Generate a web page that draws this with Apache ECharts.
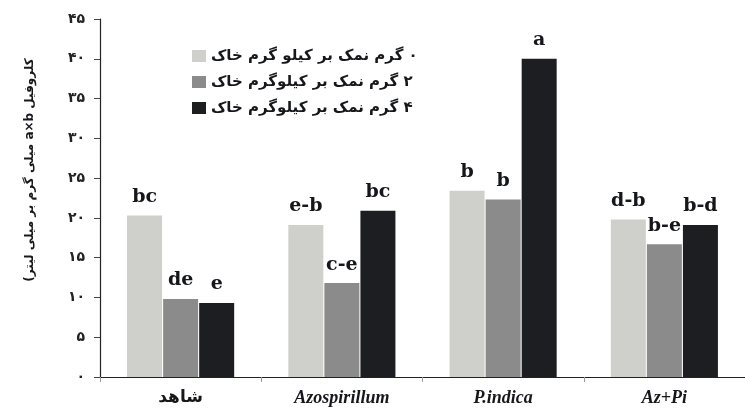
<!DOCTYPE html>
<html>
<head>
<meta charset="utf-8">
<script src="https://cdn.jsdelivr.net/npm/echarts@6/dist/echarts.min.js"></script>
<style>
  html, body { margin: 0; padding: 0; background: #fff; }
  #chart { position: absolute; left: 0; top: 0; width: 745px; height: 410px; }
</style>
</head>
<body>
<div id="chart" dir="rtl"></div>
<script>
// Treatments on the category axis
const categories = ['شاهد', 'Azospirillum', 'P.indica', 'Az+Pi'];

// Salt levels (legend entries)
const seriesNames = [
  '۰ گرم نمک بر کیلو گرم خاک',
  '۲ گرم نمک بر کیلوگرم خاک',
  '۴ گرم نمک بر کیلوگرم خاک'
];

// Chlorophyll a×b values per treatment, one array per salt level
const salt0 = [20.3, 19.1, 23.4, 19.8];
const salt2 = [9.8, 11.8, 22.3, 16.7];
const salt4 = [9.3, 20.9, 40.0, 19.1];

// Mean-comparison letters shown above each bar
const letters0 = ['bc', 'e-b', 'b', 'd-b'];
const letters2 = ['de', 'c-e', 'b', 'b-e'];
const letters4 = ['e', 'bc', 'a', 'b-d'];

// Y-axis tick labels (Persian digits) for 0, 5, ..., 45
const yTickLabels = ['۰', '۵', '۱۰', '۱۵', '۲۰', '۲۵', '۳۰', '۳۵', '۴۰', '۴۵'];

const yTitle = 'کلروفیل a×b میلی گرم بر میلی لیتر)';

const colors = ['#cfcfcc', '#8b8b8b', '#1c1e21'];
const valueSets = [salt0, salt2, salt4];
const letterSets = [letters0, letters2, letters4];

const chart = echarts.init(document.getElementById('chart'), null, { renderer: 'canvas' });

const series = valueSets.map(function (vals, i) {
  return {
    name: seriesNames[i],
    type: 'bar',
    data: vals,
    barWidth: 35,
    barGap: '3%',
    itemStyle: { color: colors[i] },
    label: {
      show: true,
      position: 'top',
      distance: 9,
      color: '#15171a',
      fontFamily: 'DejaVu Serif',
      fontWeight: 'bold',
      fontSize: 19,
      formatter: function (p) { return letterSets[i][p.dataIndex]; }
    }
  };
});

chart.setOption({
  animation: false,
  backgroundColor: '#ffffff',
  color: colors,
  grid: { left: 100, right: -10, top: 19, bottom: 33, containLabel: false },
  legend: {
    orient: 'vertical',
    left: 187,
    top: 43,
    itemWidth: 14,
    itemHeight: 12,
    itemGap: 10,
    icon: 'rect',
    data: seriesNames,
    textStyle: {
      fontFamily: 'DejaVu Sans',
      fontWeight: 'bold',
      fontSize: 15,
      lineHeight: 16,
      color: '#15171a'
    }
  },
  xAxis: {
    type: 'category',
    data: categories,
    axisLine: { lineStyle: { color: '#222', width: 1.2 } },
    axisTick: { show: true, length: 5, lineStyle: { color: '#999' } },
    axisLabel: {
      margin: 12,
      formatter: function (v) {
        return v === 'شاهد' ? '{fa|' + v + '}' : '{it|' + v + '}';
      },
      rich: {
        fa: { fontFamily: 'DejaVu Sans', fontWeight: 'bold', fontSize: 17, color: '#15171a' },
        it: { fontFamily: 'Liberation Serif', fontStyle: 'italic', fontWeight: 'bold', fontSize: 18, color: '#15171a' }
      }
    }
  },
  yAxis: {
    type: 'value',
    min: 0,
    max: 45,
    interval: 5,
    splitLine: { show: false },
    axisLine: { show: true, lineStyle: { color: '#222', width: 1.2 } },
    axisTick: { show: true, length: 6, lineStyle: { color: '#444' } },
    axisLabel: {
      margin: 15,
      fontFamily: 'DejaVu Sans',
      fontWeight: 'bold',
      fontSize: 14,
      color: '#222',
      formatter: function (v) { return yTickLabels[Math.round(v / 5)]; }
    }
  },
  graphic: [{
    type: 'text',
    x: 30,
    y: 170,
    rotation: Math.PI / 2,
    style: {
      text: yTitle,
      fontFamily: 'DejaVu Sans',
      fontWeight: 'bold',
      fontSize: 12,
      fill: '#15171a',
      align: 'center',
      verticalAlign: 'middle'
    }
  }],
  series: series
});
</script>
</body>
</html>
